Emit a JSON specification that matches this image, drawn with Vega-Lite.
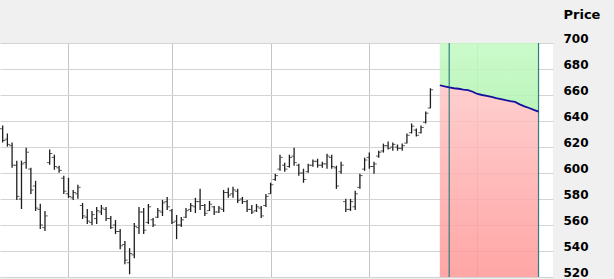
{
  "$schema": "https://vega.github.io/schema/vega-lite/v6.json",
  "width": 553,
  "height": 234,
  "autosize": "none",
  "padding": {"left": 0, "top": 43, "right": 61, "bottom": 2},
  "background": "#f0f0f0",
  "config": {
    "view": {"fill": "#ffffff", "stroke": null},
    "font": "DejaVu Sans",
    "axisY": {"tickCount": 10, "grid": true, "gridColor": "#d4d4d4", "gridWidth": 1, "ticks": false, "domain": false,
              "labelPadding": 10, "labelAlign": "left", "labelOverlap": false, "labelBound": false, "labelFlush": false,
              "labelFont": "DejaVu Sans", "labelFontSize": 12, "labelFontWeight": "bold", "labelColor": "#000000", "labelOffset": -4.5}
  },
  "datasets": {
    "ohlc": [
      {"day":0,"o":634,"h":636.6,"l":623.4,"c":625},
      {"day":1,"o":626,"h":630.4,"l":620.3,"c":622},
      {"day":2,"o":621,"h":623.4,"l":604.1,"c":606},
      {"day":3,"o":606,"h":609.5,"l":579.3,"c":582},
      {"day":4,"o":580,"h":609.5,"l":572.3,"c":607},
      {"day":5,"o":608,"h":619.5,"l":603.3,"c":616},
      {"day":6,"o":603,"h":604.1,"l":583.9,"c":587},
      {"day":7,"o":590,"h":594.0,"l":570.8,"c":573},
      {"day":8,"o":572,"h":576.3,"l":556.9,"c":560},
      {"day":9,"o":558,"h":570.8,"l":555.3,"c":567},
      {"day":10,"o":608,"h":618.0,"l":606.4,"c":615},
      {"day":11,"o":612,"h":614.1,"l":602.5,"c":605},
      {"day":12,"o":604,"h":605.6,"l":600.2,"c":602},
      {"day":13,"o":596,"h":597.9,"l":583.9,"c":586},
      {"day":14,"o":584,"h":596.3,"l":580.8,"c":582},
      {"day":15,"o":581,"h":587.0,"l":579.3,"c":585},
      {"day":16,"o":584,"h":590.9,"l":580.1,"c":589},
      {"day":17,"o":575,"h":577.0,"l":564.6,"c":567},
      {"day":18,"o":566,"h":572.3,"l":560.7,"c":563},
      {"day":19,"o":562,"h":570.8,"l":560.0,"c":568},
      {"day":20,"o":565,"h":573.9,"l":560.7,"c":571},
      {"day":21,"o":570,"h":575.4,"l":567.7,"c":573},
      {"day":22,"o":572,"h":573.9,"l":563.1,"c":565},
      {"day":23,"o":565,"h":566.9,"l":556.9,"c":558},
      {"day":24,"o":560,"h":563.8,"l":553.0,"c":555},
      {"day":25,"o":555,"h":556.9,"l":541.4,"c":544},
      {"day":26,"o":545,"h":547.6,"l":529.8,"c":533},
      {"day":27,"o":531,"h":542.2,"l":522.1,"c":538},
      {"day":28,"o":537,"h":561.5,"l":534.4,"c":559},
      {"day":29,"o":558,"h":573.9,"l":553.0,"c":570},
      {"day":30,"o":570,"h":573.1,"l":553.0,"c":556},
      {"day":31,"o":562,"h":576.2,"l":560.7,"c":574},
      {"day":32,"o":564,"h":565.4,"l":558.4,"c":560},
      {"day":33,"o":566,"h":573.1,"l":565.4,"c":571},
      {"day":34,"o":570,"h":579.3,"l":566.9,"c":577},
      {"day":35,"o":578,"h":581.6,"l":571.6,"c":574},
      {"day":36,"o":571,"h":572.3,"l":560.7,"c":562},
      {"day":37,"o":563,"h":567.7,"l":549.1,"c":560},
      {"day":38,"o":560,"h":566.1,"l":558.4,"c":564},
      {"day":39,"o":566,"h":573.1,"l":565.4,"c":571},
      {"day":40,"o":572,"h":577.0,"l":570.0,"c":575},
      {"day":41,"o":574,"h":580.9,"l":569.2,"c":578},
      {"day":42,"o":578,"h":587.8,"l":571.6,"c":575},
      {"day":43,"o":575,"h":576.2,"l":566.9,"c":569},
      {"day":44,"o":571,"h":578.5,"l":570.8,"c":576},
      {"day":45,"o":574,"h":574.7,"l":567.7,"c":570},
      {"day":46,"o":570,"h":574.7,"l":569.2,"c":573},
      {"day":47,"o":572,"h":587.0,"l":570.0,"c":585},
      {"day":48,"o":585,"h":588.6,"l":580.9,"c":583},
      {"day":49,"o":584,"h":589.4,"l":580.9,"c":587},
      {"day":50,"o":586,"h":587.8,"l":577.0,"c":579},
      {"day":51,"o":580,"h":581.6,"l":576.2,"c":578},
      {"day":52,"o":578,"h":579.3,"l":570.0,"c":572},
      {"day":53,"o":572,"h":575.4,"l":568.5,"c":570},
      {"day":54,"o":571,"h":576.2,"l":570.0,"c":574},
      {"day":55,"o":573,"h":574.7,"l":565.4,"c":567},
      {"day":56,"o":575,"h":583.9,"l":573.9,"c":582},
      {"day":57,"o":584,"h":592.5,"l":583.9,"c":591},
      {"day":58,"o":595,"h":599.4,"l":594.0,"c":598},
      {"day":59,"o":603,"h":614.1,"l":601.7,"c":612},
      {"day":60,"o":606,"h":607.9,"l":600.9,"c":603},
      {"day":61,"o":605,"h":614.1,"l":604.1,"c":612},
      {"day":62,"o":613,"h":619.5,"l":605.6,"c":608},
      {"day":63,"o":606,"h":607.2,"l":597.9,"c":600},
      {"day":64,"o":600,"h":603.3,"l":592.5,"c":595},
      {"day":65,"o":601,"h":607.2,"l":600.2,"c":606},
      {"day":66,"o":606,"h":610.3,"l":604.8,"c":609},
      {"day":67,"o":609,"h":611.0,"l":604.1,"c":606},
      {"day":68,"o":606,"h":608.7,"l":604.1,"c":607},
      {"day":69,"o":607,"h":614.9,"l":603.3,"c":613},
      {"day":70,"o":612,"h":614.1,"l":603.3,"c":605},
      {"day":71,"o":604,"h":605.6,"l":587.8,"c":590},
      {"day":72,"o":601,"h":608.7,"l":599.4,"c":606},
      {"day":73,"o":578,"h":580.1,"l":570.0,"c":572},
      {"day":74,"o":572,"h":580.1,"l":570.8,"c":578},
      {"day":75,"o":574,"h":586.3,"l":571.6,"c":584},
      {"day":76,"o":589,"h":599.4,"l":587.8,"c":598},
      {"day":77,"o":603,"h":611.8,"l":601.7,"c":610},
      {"day":78,"o":612,"h":615.7,"l":603.3,"c":605},
      {"day":79,"o":605,"h":608.7,"l":599.4,"c":607},
      {"day":80,"o":613,"h":617.2,"l":611.8,"c":616},
      {"day":81,"o":617,"h":622.6,"l":615.7,"c":621},
      {"day":82,"o":621,"h":624.2,"l":618.0,"c":619},
      {"day":83,"o":620,"h":623.4,"l":617.2,"c":622},
      {"day":84,"o":620,"h":621.9,"l":617.2,"c":619},
      {"day":85,"o":619,"h":622.6,"l":617.2,"c":621},
      {"day":86,"o":623,"h":630.4,"l":622.6,"c":629},
      {"day":87,"o":631,"h":638.1,"l":630.4,"c":636},
      {"day":88,"o":633,"h":634.2,"l":628.0,"c":629},
      {"day":89,"o":631,"h":636.6,"l":630.4,"c":635},
      {"day":90,"o":639,"h":647.4,"l":638.1,"c":646},
      {"day":91,"o":650,"h":665.2,"l":649.7,"c":664}
    ],
    "fc": [
      {"day":93,"f":667.5},{"day":94,"f":666.6},{"day":95,"f":665.8},{"day":96,"f":665.2},
      {"day":97,"f":664.8},{"day":98,"f":664.2},{"day":99,"f":663.7},{"day":100,"f":662.5},
      {"day":101,"f":660.8},{"day":102,"f":660.0},{"day":103,"f":659.4},{"day":104,"f":658.5},
      {"day":105,"f":657.6},{"day":106,"f":656.8},{"day":107,"f":656.0},{"day":108,"f":655.3},
      {"day":109,"f":654.7},{"day":110,"f":652.8},{"day":111,"f":651.3},{"day":112,"f":650.0},
      {"day":113,"f":648.5},{"day":114,"f":647.2}
    ],
    "mk": [{"day":95},{"day":114}]
  },
  "layer": [
    {
      "data": {"name": "fc"},
      "mark": {"type": "area", "opacity": 0.85, "color": {"gradient": "linear", "x1": 0, "y1": 0, "x2": 0, "y2": 1, "stops": [{"offset": 0, "color": "#c2fac2"}, {"offset": 1, "color": "#b0f2b0"}]}},
      "encoding": {
        "x": {"field": "day", "type": "quantitative", "scale": {"domain": [-0.57, 117.08], "nice": false, "zero": false},
              "axis": {"values": [14, 36, 57, 78, 101], "labels": false, "ticks": false, "domain": false, "title": null, "grid": true, "gridColor": "#c4c4c4", "gridWidth": 1}},
        "y": {"field": "f", "type": "quantitative", "scale": {"domain": [520, 700], "nice": false, "zero": false},
              "axis": {"orient": "right", "values": [520, 540, 560, 580, 600, 620, 640, 660, 680, 700], "tickCount": 10,
                       "title": "Price", "titleAngle": 0, "titleX": 10, "titleY": -29, "titleAlign": "left", "titleBaseline": "middle", "titleFont": "DejaVu Sans", "titleFontSize": 13, "titleFontWeight": "bold", "titleColor": "#000000"}},
        "y2": {"datum": 700}
      }
    },
    {
      "data": {"name": "fc"},
      "mark": {"type": "area", "opacity": 0.85, "color": {"gradient": "linear", "x1": 0, "y1": 0, "x2": 0, "y2": 1, "stops": [{"offset": 0, "color": "#ffc6c6"}, {"offset": 1, "color": "#ff9696"}]}},
      "encoding": {
        "x": {"field": "day", "type": "quantitative"},
        "y": {"field": "f", "type": "quantitative"},
        "y2": {"datum": 520}
      }
    },
    {
      "data": {"name": "mk"},
      "mark": {"type": "rule", "color": "#2f7f7f", "strokeWidth": 1.2},
      "encoding": {"x": {"field": "day", "type": "quantitative"}}
    },
    {
      "data": {"name": "fc"},
      "mark": {"type": "line", "color": "#12129e", "strokeWidth": 1.8},
      "encoding": {
        "x": {"field": "day", "type": "quantitative"},
        "y": {"field": "f", "type": "quantitative"}
      }
    },
    {
      "data": {"name": "ohlc"},
      "mark": {"type": "rule", "color": "#1e1e1e", "strokeWidth": 1.3},
      "encoding": {
        "x": {"field": "day", "type": "quantitative"},
        "y": {"field": "l", "type": "quantitative"},
        "y2": {"field": "h"}
      }
    },
    {
      "data": {"name": "ohlc"},
      "mark": {"type": "tick", "orient": "horizontal", "color": "#1e1e1e", "size": 2.5, "thickness": 1, "xOffset": -1.5},
      "encoding": {
        "x": {"field": "day", "type": "quantitative"},
        "y": {"field": "o", "type": "quantitative"}
      }
    },
    {
      "data": {"name": "ohlc"},
      "mark": {"type": "tick", "orient": "horizontal", "color": "#1e1e1e", "size": 2.5, "thickness": 1, "xOffset": 1.5},
      "encoding": {
        "x": {"field": "day", "type": "quantitative"},
        "y": {"field": "c", "type": "quantitative"}
      }
    }
  ]
}
